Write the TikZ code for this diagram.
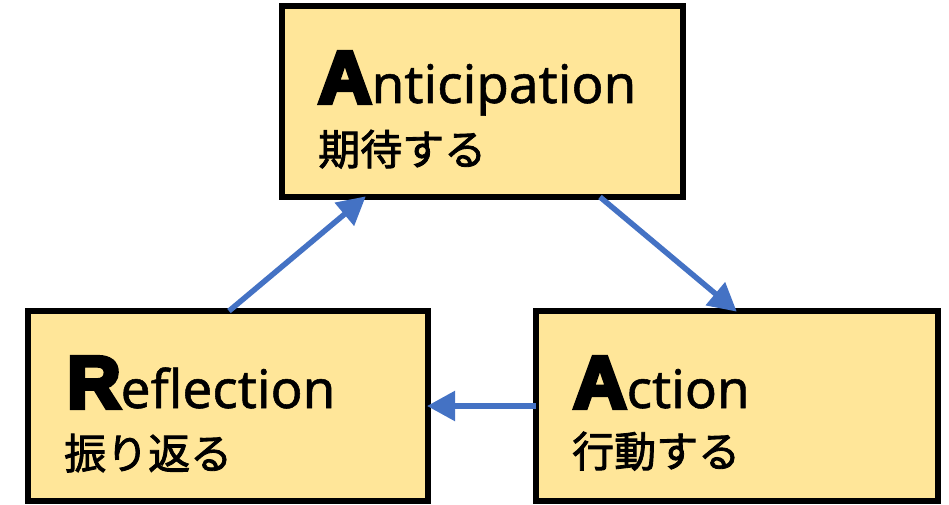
\documentclass[tikz,border=0pt]{standalone}
\usepackage{fontspec}
\usetikzlibrary{arrows.meta}
\setmainfont{Noto Sans}[FakeBold=1]
\newfontfamily\jpfont{Noto Sans CJK JP}[FakeBold=2]
\newfontfamily\heavyfont{Liberation Sans}[UprightFont={* Bold}, FakeBold=6]
\definecolor{boxfill}{HTML}{FFE699}
\definecolor{arrowblue}{HTML}{4472C4}
\tikzset{
  stagebox/.style={draw=black, line width=6pt, fill=boxfill, outer sep=0pt,
    inner sep=0pt, minimum width=401pt, minimum height=191pt, anchor=north west},
  latinword/.style={anchor=base west, inner sep=0pt, font=\fontsize{53}{60}\selectfont},
  jpword/.style={anchor=base west, inner sep=0pt, font=\jpfont\fontsize{42}{50}\selectfont},
  flow/.style={draw=arrowblue, line width=5.5pt,
    -{Triangle[length=28pt, width=29pt]}, shorten >=-1pt},
}
\newcommand{\initial}[1]{{\heavyfont\fontsize{74}{80}\selectfont #1}}
\begin{document}
\begin{tikzpicture}[x=1pt, y=-1pt]
  \useasboundingbox (0,0) rectangle (949,505);

  % stage boxes
  \node[stagebox] (T) at (282,6) {};
  \node[stagebox, minimum width=400pt, minimum height=190pt] (L) at (28,311) {};
  \node[stagebox, minimum width=402pt, minimum height=190pt] (R) at (536,311) {};

  % labels
  \node[latinword] (Tword) at (318,103) {\initial{A}nticipation};
  \node[jpword] (Tjp) at (318,165) {期待する};
  \node[latinword] (Lword) at (67,408) {\initial{R}eflection};
  \node[jpword] (Ljp) at (64,469) {振り返る};
  \node[latinword] (Rword) at (573,408) {\initial{A}ction};
  \node[jpword] (Rjp) at (572,467) {行動する};

  % cycle arrows
  \draw[flow] ([xshift=201pt]L.north west) -- ([xshift=83pt]T.south west);
  \draw[flow] ([xshift=318pt]T.south west) -- ([xshift=200pt]R.north west);
  \draw[flow] (R.west) -- (L.east);
\end{tikzpicture}
\end{document}
